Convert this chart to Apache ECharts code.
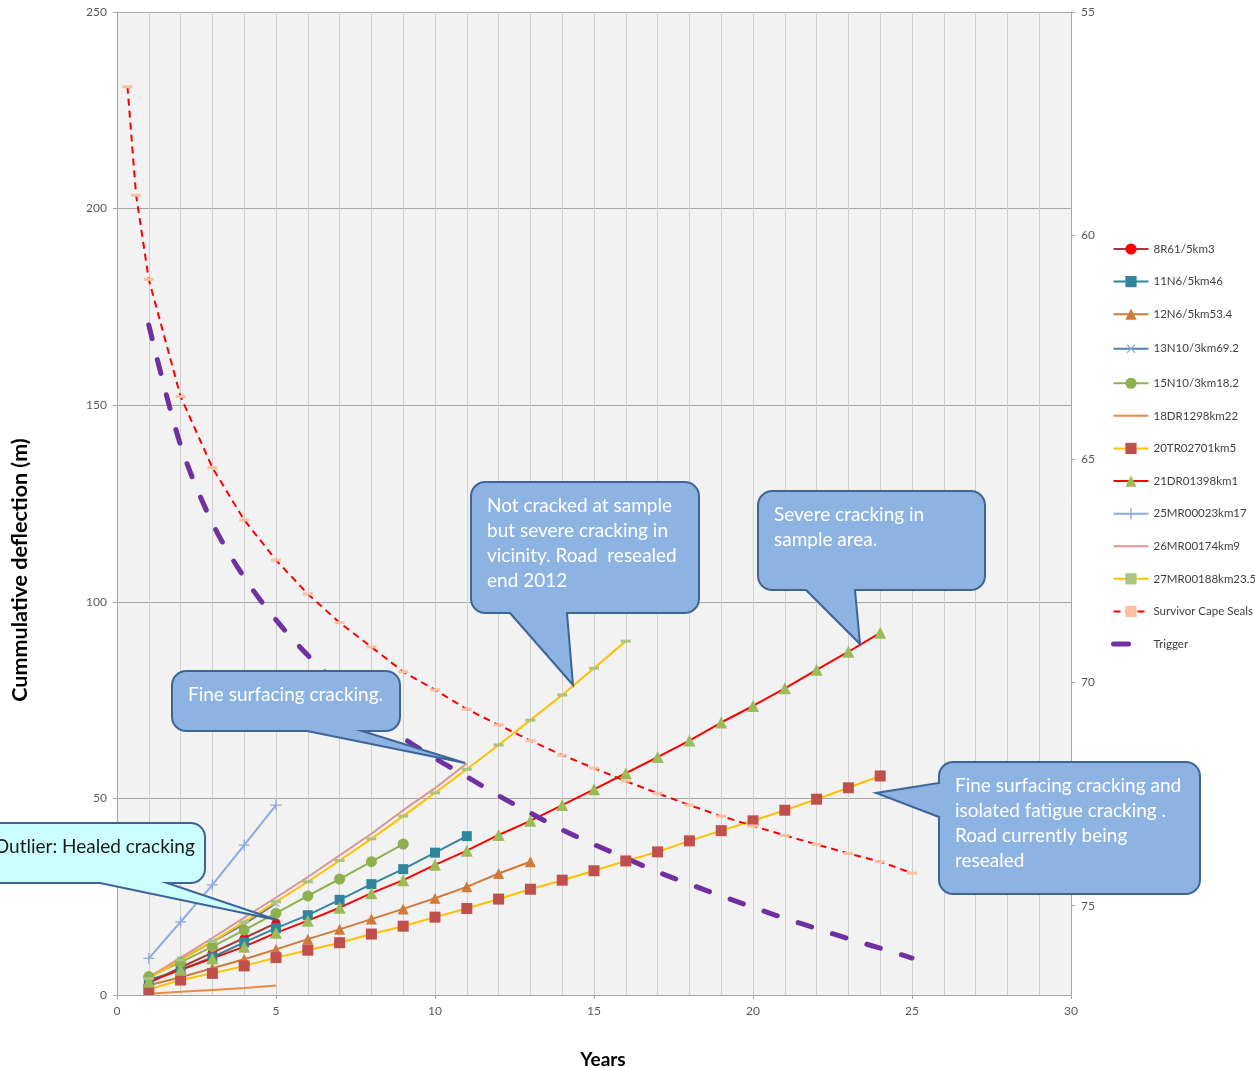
<!DOCTYPE html>
<html><head><meta charset="utf-8">
<script src="https://cdn.jsdelivr.net/npm/echarts@6/dist/echarts.min.js"></script>
<style>html,body{margin:0;padding:0;background:#fff}#c{width:1255px;height:1068px}</style>
</head><body><div id="c"></div>
<script>
// ---- data ----
const years = [1,2,3,4,5,6,7,8,9,10,11,12,13,14,15,16,17,18,19,20,21,22,23,24,25];
const s8R61   = [3.0, 7.0, 10.8, 14.5, 18.3];
const s11N6   = [3.8, 6.4, 9.6, 13.4, 17.0, 20.3, 24.2, 28.2, 32.0, 36.2, 40.4];
const s12N6   = [2.5, 4.5, 6.8, 9.1, 11.6, 14.2, 16.7, 19.3, 21.9, 24.6, 27.5, 30.9, 33.9];
const s13N10  = [4.5, 9.0, 13.5, 18.0, 23.3];
const s15N10  = [4.7, 8.3, 12.3, 16.5, 20.8, 25.2, 29.5, 33.9, 38.4];
const s18DR   = [0.3, 0.8, 1.3, 1.8, 2.4];
const s20TR   = [1.4, 3.8, 5.5, 7.4, 9.5, 11.4, 13.3, 15.5, 17.5, 19.8, 22.0, 24.4, 26.9, 29.2, 31.6, 34.1, 36.4, 39.2, 41.8, 44.3, 47.0, 49.8, 52.7, 55.7];
const s21DR   = [3.4, 6.4, 9.3, 12.3, 15.8, 18.9, 22.2, 25.9, 29.2, 33.1, 36.7, 40.7, 44.3, 48.3, 52.3, 56.4, 60.5, 64.7, 69.3, 73.5, 78.0, 82.7, 87.3, 92.1];
const s25MR   = [9.3, 18.6, 28.0, 38.1, 48.3];
const s26MR   = [4.5, 9.5, 14.5, 19.7, 24.8, 30.0, 35.5, 41.0, 47.0, 52.6, 58.9];
const s27MR   = [4.2, 8.9, 13.6, 18.6, 23.7, 28.8, 34.2, 39.7, 45.5, 51.4, 57.4, 63.6, 69.9, 76.3, 83.1, 90.0];
const survivorX = [0.33, 0.6, 1,2,3,4,5,6,7,8,9,10,11,12,13,14,15,16,17,18,19,20,21,22,23,24,25];
const survivorY = [231, 203.4, 182, 152.2, 134.1, 120.8, 110.6, 102.0, 94.7, 88.5, 82.2, 77.6, 72.7, 68.7, 64.7, 61.0, 57.7, 54.4, 51.3, 48.3, 45.5, 43.0, 40.6, 38.3, 36.0, 33.9, 31.0];
const trigger = [170.4, 139.8, 120.0, 106.2, 95.4, 86.4, 78.7, 71.9, 65.4, 60.2, 55.5, 50.7, 46.3, 42.0, 38.3, 34.8, 31.3, 28.2, 25.2, 22.3, 19.5, 16.9, 14.3, 11.9, 9.4];
const xTicks = [0, 5, 10, 15, 20, 25, 30];
const leftTicks = [0, 50, 100, 150, 200, 250];
const rightTicks = [55, 60, 65, 70, 75];

const callouts = [
  {lines:['Not cracked at sample','but severe cracking in','vicinity. Road  resealed','end 2012'], box:[471,482,228,131], side:'bottom', base:[510,567], tip:[573,685]},
  {lines:['Severe cracking in','sample area.'], box:[758,491,227,99], side:'bottom', base:[806,855], tip:[860,644]},
  {lines:['Fine surfacing cracking.'], box:[172,671,228,60], side:'bottom', base:[307,362], tip:[465,763]},
  {lines:['Fine surfacing cracking and','isolated fatigue cracking .','Road currently being','resealed'], box:[939,762,261,132], side:'left', base:[783,817], tip:[876,793]},
  {lines:['Outlier: Healed cracking'], box:[-22,823,227,60], side:'bottom', base:[100,167], tip:[277,920], fill:'#CCFFFF', color:'#1a1a1a'}
];

// ---- build ----
const FONT = 'Lato, "Open Sans", sans-serif';
function pairs(xs, ys){ return ys.map((v,i)=>[xs[i], v]); }
const plus = 'path://M4.4,0h1.2v4.4h4.4v1.2h-4.4v4.4h-1.2v-4.4h-4.4v-1.2h4.4z';

function mk(name, data, lineColor, symbol, symColor, size, extra){
  return Object.assign({
    name, type:'line', data,
    symbol: symbol || 'none', symbolSize: size || 9, showSymbol: !!symbol,
    lineStyle:{color: lineColor, width: 2},
    itemStyle:{color: symColor || lineColor},
    emphasis:{disabled:true}, animation:false
  }, extra || {});
}

const series = [
  mk('8R61/5km3', pairs(years, s8R61), '#A33B37', 'circle', '#FF0000', 9),
  mk('11N6/5km46', pairs(years, s11N6), '#31859C', 'rect', '#31859C', 10),
  mk('12N6/5km53.4', pairs(years, s12N6), '#D07A3A', 'triangle', '#D07A3A', 11),
  mk('13N10/3km69.2', pairs(years, s13N10), '#4F81BD', plus, '#95B3D7', 10, {symbolRotate:45}),
  mk('15N10/3km18.2', pairs(years, s15N10), '#8EB14F', 'circle', '#8EB14F', 11),
  mk('18DR1298km22', pairs(years, s18DR), '#F0893C', null),
  mk('20TR02701km5', pairs(years, s20TR), '#FFC000', 'rect', '#C0504D', 11),
  mk('21DR01398km1', pairs(years, s21DR), '#FF0000', 'triangle', '#9BBB59', 12),
  mk('25MR00023km17', pairs(years, s25MR), '#8EAADB', plus, '#8EAADB', 11),
  mk('26MR00174km9', pairs(years, s26MR), '#D99694', null),
  mk('27MR00188km23.5', pairs(years, s27MR), '#FFC000', 'rect', '#A9C47F', [10,3]),
  mk('Survivor Cape Seals', pairs(survivorX, survivorY), '#FF0000', 'rect', '#FBC0A0', [10,3],
     {lineStyle:{color:'#FF0000', width:2, type:[7,5]}}),
  mk('Trigger', pairs(years, trigger), '#7030A0', null, null, null,
     {smooth:0.3, lineStyle:{color:'#7030A0', width:5, type:[14,22], cap:'round'}})
];

const lineOnly = ['18DR1298km22', '26MR00174km9'];
const legendData = series.map(s => {
  if (s.name === 'Trigger') return {name:s.name, itemStyle:{opacity:0}, lineStyle:{width:5, type:[15,40], cap:'round', color:'#7030A0'}};
  return lineOnly.indexOf(s.name) >= 0 ? {name:s.name, itemStyle:{opacity:0}} : {name:s.name};
});

function bubblePoints(c){
  const [x,y,w,h] = c.box, r = 14, pts = [];
  function arc(cx, cy, a0, a1){
    for (let i=0;i<=6;i++){ const a=a0+(a1-a0)*i/6; pts.push([cx+r*Math.cos(a), cy+r*Math.sin(a)]); }
  }
  arc(x+r, y+r, Math.PI, 1.5*Math.PI);
  arc(x+w-r, y+r, 1.5*Math.PI, 2*Math.PI);
  arc(x+w-r, y+h-r, 0, 0.5*Math.PI);
  if (c.side==='bottom'){ pts.push([c.base[1], y+h], c.tip, [c.base[0], y+h]); }
  arc(x+r, y+h-r, 0.5*Math.PI, Math.PI);
  if (c.side==='left'){ pts.push([x, c.base[1]], c.tip, [x, c.base[0]]); }
  return pts;
}

const graphics = [];
callouts.forEach(c=>{
  graphics.push({type:'polygon', z:100, shape:{points:bubblePoints(c)},
    style:{fill:c.fill||'#8DB3E2', stroke:'#3C6496', lineWidth:2}});
  c.lines.forEach((t,i)=>{
    graphics.push({type:'text', z:101, x:c.box[0]+16, y:c.box[1]+24+i*25,
      style:{text:t, fill:c.color||'#FFFFFF', font:'19px '+FONT, textVerticalAlign:'middle', verticalAlign:'middle'}});
  });
});
graphics.push({type:'text', z:50, x:20, y:570, rotation:Math.PI/2,
  style:{text:'Cummulative deflection (m)', fill:'#000', font:'bold 21.5px '+FONT, textAlign:'center', align:'center', textVerticalAlign:'middle', verticalAlign:'middle'}});
graphics.push({type:'text', z:50, x:603, y:1060,
  style:{text:'Years', fill:'#000', font:'bold 19px '+FONT, textAlign:'center', align:'center', textVerticalAlign:'middle', verticalAlign:'middle'}});

const chart = echarts.init(document.getElementById('c'), null, {renderer:'canvas'});
chart.setOption({
  animation:false,
  backgroundColor:'#FFFFFF',
  grid:{left:117, right:184, top:12, bottom:73, show:true, backgroundColor:'#F2F2F2', borderWidth:0},
  xAxis:{type:'value', min:xTicks[0], max:xTicks[xTicks.length-1], interval:5,
    axisLine:{show:true, lineStyle:{color:'#A6A6A6'}}, axisTick:{show:true, length:4, lineStyle:{color:'#A6A6A6'}},
    axisLabel:{color:'#595959', fontSize:12, fontFamily:FONT, margin:10},
    splitLine:{show:true, lineStyle:{color:'#D0D0D0', width:1}},
    minorTick:{show:false, splitNumber:5},
    minorSplitLine:{show:true, lineStyle:{color:'#D0D0D0', width:1}}},
  yAxis:[
    {type:'value', min:leftTicks[0], max:leftTicks[leftTicks.length-1], interval:50,
     axisLine:{show:true, lineStyle:{color:'#A6A6A6'}}, axisTick:{show:true, length:4, lineStyle:{color:'#A6A6A6'}},
     axisLabel:{color:'#595959', fontSize:12, fontFamily:FONT, margin:10},
     splitLine:{show:true, lineStyle:{color:'#A6A6A6'}}},
    {type:'value', position:'right', inverse:true, min:rightTicks[0], max:77, interval:5,
     axisLine:{show:true, lineStyle:{color:'#A6A6A6'}}, axisTick:{show:true, length:4, lineStyle:{color:'#A6A6A6'}},
     axisLabel:{color:'#595959', fontSize:12, fontFamily:FONT, margin:10, showMaxLabel:false,
       formatter:v=> rightTicks.indexOf(v)>=0 ? String(v) : ''},
     splitLine:{show:false}}
  ],
  legend:{orient:'vertical', left:1106, top:238, itemWidth:35, itemHeight:14, itemGap:20.6,
    textStyle:{color:'#404040', fontSize:11.5, fontFamily:FONT}, data:legendData,
    selectedMode:false},
  series: series,
  graphic: graphics
});
</script>
</body></html>
